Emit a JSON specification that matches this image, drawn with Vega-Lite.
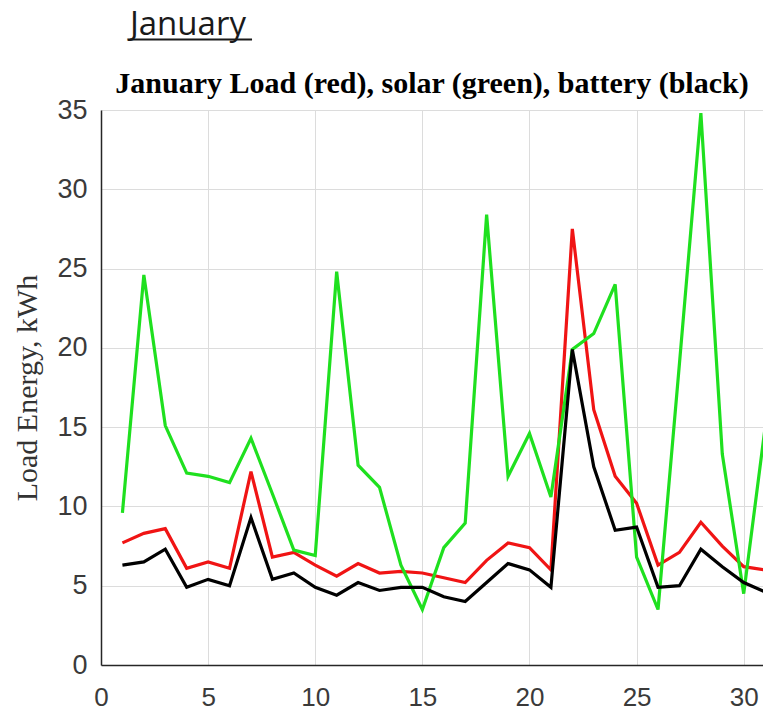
{
  "$schema": "https://vega.github.io/schema/vega-lite/v6.json",
  "width": 662,
  "height": 555,
  "autosize": {"type": "none"},
  "padding": {"left": 101, "top": 110, "right": 0, "bottom": 49},
  "background": "white",
  "title": {
    "text": "January Load (red), solar (green), battery (black)",
    "font": "Liberation Serif",
    "fontSize": 30,
    "fontWeight": "bold",
    "color": "#000000",
    "anchor": "middle",
    "baseline": "alphabetic",
    "offset": 0,
    "dy": 114
  },
  "config": {"view": {"stroke": null}},
  "layer": [
    {
      "data": {
        "values": [
          {"day": 1, "Load": 7.7, "Solar": 9.6, "Battery": 6.3},
          {"day": 2, "Load": 8.3, "Solar": 24.6, "Battery": 6.5},
          {"day": 3, "Load": 8.6, "Solar": 15.1, "Battery": 7.3},
          {"day": 4, "Load": 6.1, "Solar": 12.1, "Battery": 4.9},
          {"day": 5, "Load": 6.5, "Solar": 11.9, "Battery": 5.4},
          {"day": 6, "Load": 6.1, "Solar": 11.5, "Battery": 5.0},
          {"day": 7, "Load": 12.2, "Solar": 14.3, "Battery": 9.3},
          {"day": 8, "Load": 6.8, "Solar": 10.8, "Battery": 5.4},
          {"day": 9, "Load": 7.1, "Solar": 7.25, "Battery": 5.8},
          {"day": 10, "Load": 6.3, "Solar": 6.9, "Battery": 4.9},
          {"day": 11, "Load": 5.6, "Solar": 24.8, "Battery": 4.4},
          {"day": 12, "Load": 6.4, "Solar": 12.6, "Battery": 5.2},
          {"day": 13, "Load": 5.8, "Solar": 11.2, "Battery": 4.7},
          {"day": 14, "Load": 5.9, "Solar": 6.3, "Battery": 4.9},
          {"day": 15, "Load": 5.8, "Solar": 3.5, "Battery": 4.9},
          {"day": 16, "Load": 5.5, "Solar": 7.4, "Battery": 4.3},
          {"day": 17, "Load": 5.2, "Solar": 8.95, "Battery": 4.0},
          {"day": 18, "Load": 6.6, "Solar": 28.4, "Battery": 5.2},
          {"day": 19, "Load": 7.7, "Solar": 11.9, "Battery": 6.4},
          {"day": 20, "Load": 7.4, "Solar": 14.6, "Battery": 6.0},
          {"day": 21, "Load": 6.0, "Solar": 10.6, "Battery": 4.9},
          {"day": 22, "Load": 27.5, "Solar": 19.9, "Battery": 19.9},
          {"day": 23, "Load": 16.1, "Solar": 20.9, "Battery": 12.5},
          {"day": 24, "Load": 11.9, "Solar": 24.0, "Battery": 8.5},
          {"day": 25, "Load": 10.2, "Solar": 6.8, "Battery": 8.7},
          {"day": 26, "Load": 6.3, "Solar": 3.5, "Battery": 4.9},
          {"day": 27, "Load": 7.1, "Solar": 19.0, "Battery": 5.0},
          {"day": 28, "Load": 9.0, "Solar": 34.8, "Battery": 7.3},
          {"day": 29, "Load": 7.5, "Solar": 13.3, "Battery": 6.2},
          {"day": 30, "Load": 6.2, "Solar": 4.5, "Battery": 5.2},
          {"day": 31, "Load": 6.0, "Solar": 15.0, "Battery": 4.6}
        ]
      },
      "transform": [{"fold": ["Load", "Solar", "Battery"], "as": ["series", "kWh"]}],
      "mark": {"type": "line", "strokeWidth": 3.2, "clip": true},
      "encoding": {
        "x": {
          "field": "day",
          "type": "quantitative",
          "scale": {"domain": [0, 30.9], "nice": false, "zero": false},
          "axis": {
            "values": [0, 5, 10, 15, 20, 25, 30],
            "grid": true,
            "gridColor": "#dcdcdc",
            "gridWidth": 1,
            "domainColor": "#262626",
            "domainWidth": 1.5,
            "ticks": false,
            "labelFont": "Liberation Sans",
            "labelFontSize": 26,
            "labelColor": "#3a3a3a",
            "labelPadding": 19,
            "labelFlush": false,
            "title": null
          }
        },
        "y": {
          "field": "kWh",
          "type": "quantitative",
          "scale": {"domain": [0, 35], "nice": false},
          "axis": {
            "values": [0, 5, 10, 15, 20, 25, 30, 35],
            "grid": true,
            "gridColor": "#dcdcdc",
            "gridWidth": 1,
            "domainColor": "#262626",
            "domainWidth": 1.5,
            "ticks": false,
            "labelFont": "Liberation Sans",
            "labelFontSize": 27,
            "labelColor": "#3a3a3a",
            "labelPadding": 14,
            "labelFlush": false,
            "title": "Load Energy, kWh",
            "titleFont": "Liberation Serif",
            "titleFontSize": 30,
            "titleFontWeight": "normal",
            "titleColor": "#333333",
            "titlePadding": 14
          }
        },
        "color": {
          "field": "series",
          "type": "nominal",
          "scale": {"domain": ["Load", "Solar", "Battery"], "range": ["#f01414", "#1fe01f", "#000000"]},
          "legend": null
        }
      }
    },
    {
      "data": {"values": [{"label": "January"}]},
      "mark": {"type": "text", "align": "left", "baseline": "alphabetic", "font": "Open Sans", "fontSize": 33, "color": "#1a1a1a"},
      "encoding": {
        "x": {"datum": 1.35},
        "y": {"datum": 39.7},
        "text": {"field": "label"}
      }
    },
    {
      "data": {"values": [{"label": "January"}]},
      "mark": {"type": "rule", "strokeWidth": 2, "color": "#1a1a1a"},
      "encoding": {
        "x": {"datum": 1.35},
        "x2": {"datum": 7.05},
        "y": {"datum": 39.45}
      }
    }
  ]
}
